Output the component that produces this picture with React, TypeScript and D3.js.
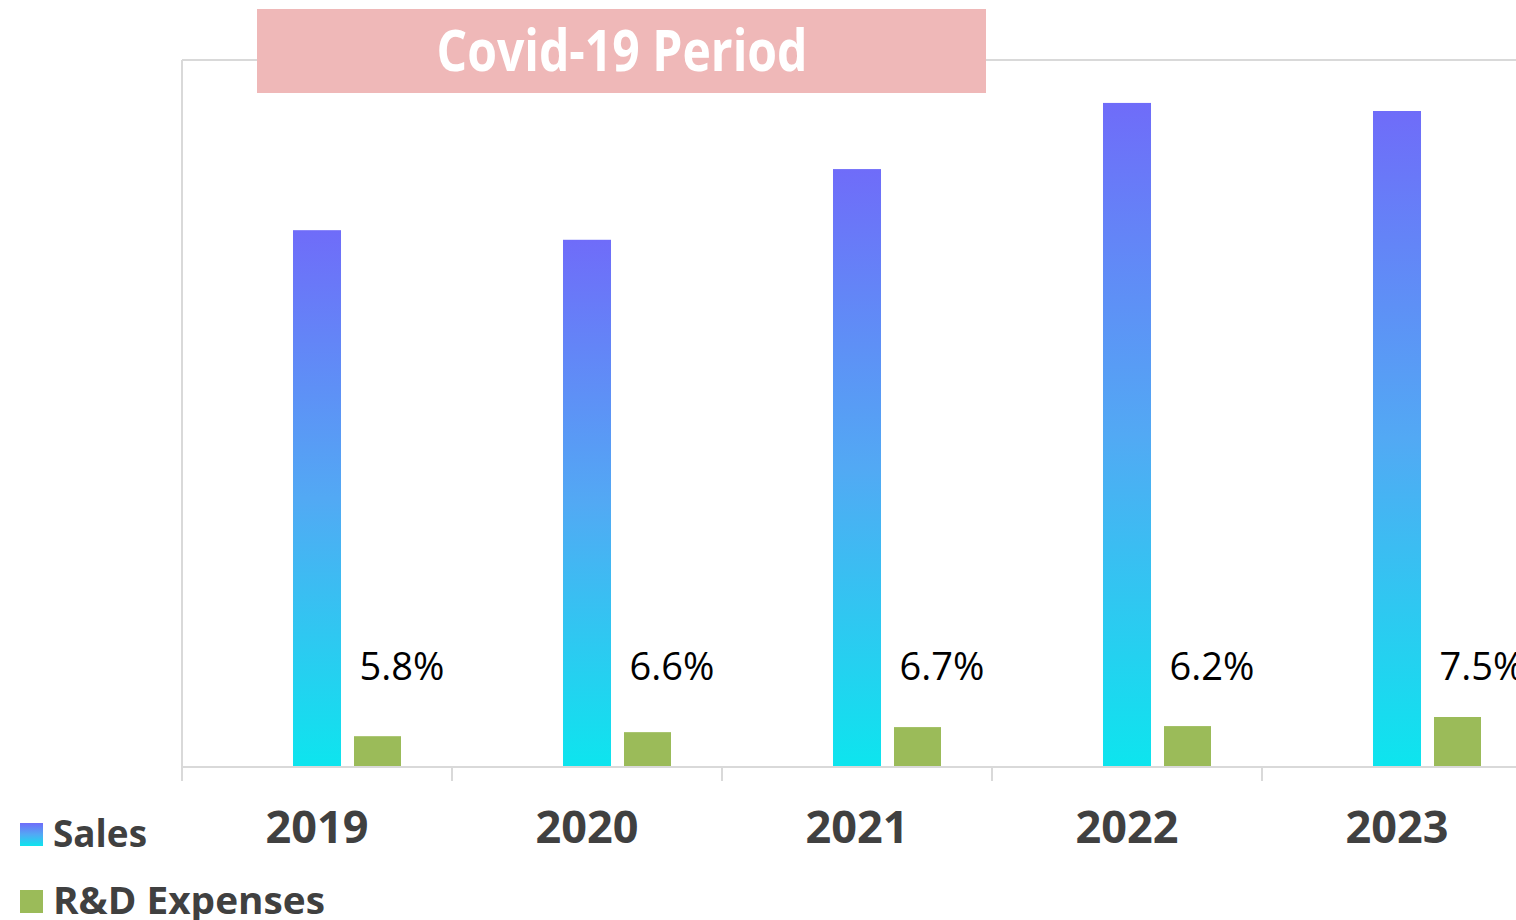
import React, { useEffect, useRef } from 'react';
import * as d3 from 'd3';

const years = ['2019', '2020', '2021', '2022', '2023'];
const sales = [1063, 1044, 1184, 1315, 1299];
const rdExpenses = [61, 69, 79, 81, 99];
const rdRatio = ['5.8%', '6.6%', '6.7%', '6.2%', '7.5%'];
const subSeries = ['ratio', 'sales', 'rd'];

const W = 1516;
const H = 920;

const App = () => {
  const svgRef = useRef<SVGSVGElement>(null);

  useEffect(() => {
    const svg = d3.select(svgRef.current);
    svg.selectAll('*').remove();

    const font = '"Open Sans", "Noto Sans", sans-serif';
    const left = 182;
    const top = 60;
    const bottom = 767;

    // 5 categories of 270px, the last one runs past the right edge
    const x = d3.scaleBand().domain(years).range([left, left + 270 * years.length]);
    // hidden 'ratio' series keeps the visible pair shifted right, like the original
    const xSub = d3.scaleBand().domain(subSeries).range([50, 220]).paddingInner(0.213);
    const y = d3.scaleLinear().domain([0, 1400]).range([bottom, top]);

    const defs = svg.append('defs');
    const grad = defs.append('linearGradient')
      .attr('id', 'salesGrad')
      .attr('x1', 0).attr('y1', 0).attr('x2', 0).attr('y2', 1);
    grad.append('stop').attr('offset', '0%').attr('stop-color', '#6f6cf9');
    grad.append('stop').attr('offset', '50%').attr('stop-color', '#52a9f4');
    grad.append('stop').attr('offset', '100%').attr('stop-color', '#0de5ee');

    const gridColor = '#d9d9d9';

    // plot frame
    svg.append('line')
      .attr('x1', left).attr('x2', W).attr('y1', top).attr('y2', top)
      .attr('stroke', gridColor).attr('stroke-width', 2);
    svg.append('line')
      .attr('x1', left).attr('x2', left).attr('y1', top).attr('y2', bottom + 14)
      .attr('stroke', gridColor).attr('stroke-width', 2);

    // bars
    years.forEach((yr, i) => {
      const g = svg.append('g').attr('transform', `translate(${x(yr)},0)`);
      g.append('rect')
        .attr('x', xSub('sales')!)
        .attr('y', y(sales[i]))
        .attr('width', xSub.bandwidth())
        .attr('height', bottom - y(sales[i]))
        .attr('fill', 'url(#salesGrad)');
      g.append('rect')
        .attr('x', xSub('rd')!)
        .attr('y', y(rdExpenses[i]))
        .attr('width', xSub.bandwidth() - 1)
        .attr('height', bottom - y(rdExpenses[i]))
        .attr('fill', '#9bbb59');
      g.append('text')
        .attr('x', xSub('rd')! + xSub.bandwidth() / 2 + 24)
        .attr('y', 680)
        .attr('text-anchor', 'middle')
        .attr('font-family', font)
        .attr('font-size', 38)
        .attr('fill', '#000')
        .text(rdRatio[i]);
    });

    // x axis
    svg.append('line')
      .attr('x1', left).attr('x2', W).attr('y1', bottom).attr('y2', bottom)
      .attr('stroke', gridColor).attr('stroke-width', 2);
    years.forEach((yr) => {
      svg.append('line')
        .attr('x1', x(yr)!).attr('x2', x(yr)!)
        .attr('y1', bottom).attr('y2', bottom + 14)
        .attr('stroke', gridColor).attr('stroke-width', 2);
      svg.append('text')
        .attr('x', x(yr)! + x.bandwidth() / 2)
        .attr('y', 843)
        .attr('text-anchor', 'middle')
        .attr('font-family', font)
        .attr('font-weight', 'bold')
        .attr('font-size', 45)
        .attr('fill', '#404040')
        .text(yr);
    });

    // title banner
    svg.append('rect')
      .attr('x', 257).attr('y', 9).attr('width', 729).attr('height', 84)
      .attr('fill', '#efb8b8');
    svg.append('text')
      .attr('x', 622).attr('y', 71)
      .attr('text-anchor', 'middle')
      .attr('font-family', font)
      .attr('font-weight', 'bold')
      .attr('font-size', 58)
      .attr('textLength', 371)
      .attr('lengthAdjust', 'spacingAndGlyphs')
      .attr('fill', '#fff')
      .text('Covid-19 Period');

    // legend
    const legend = [
      { label: 'Sales', fill: 'url(#salesGrad)', y: 823, len: 94 },
      { label: 'R&D Expenses', fill: '#9bbb59', y: 890, len: 272 },
    ];
    legend.forEach((d) => {
      svg.append('rect')
        .attr('x', 20).attr('y', d.y).attr('width', 23).attr('height', 23)
        .attr('fill', d.fill);
      svg.append('text')
        .attr('x', 53).attr('y', d.y + 24)
        .attr('font-family', font)
        .attr('font-weight', 'bold')
        .attr('font-size', 37)
        .attr('textLength', d.len)
        .attr('lengthAdjust', 'spacingAndGlyphs')
        .attr('fill', '#404040')
        .text(d.label);
    });
  }, []);

  return (
    <svg
      ref={svgRef}
      width={W}
      height={H}
      style={{ position: 'absolute', left: 0, top: 0, background: '#fff' }}
    />
  );
};

export default App;
